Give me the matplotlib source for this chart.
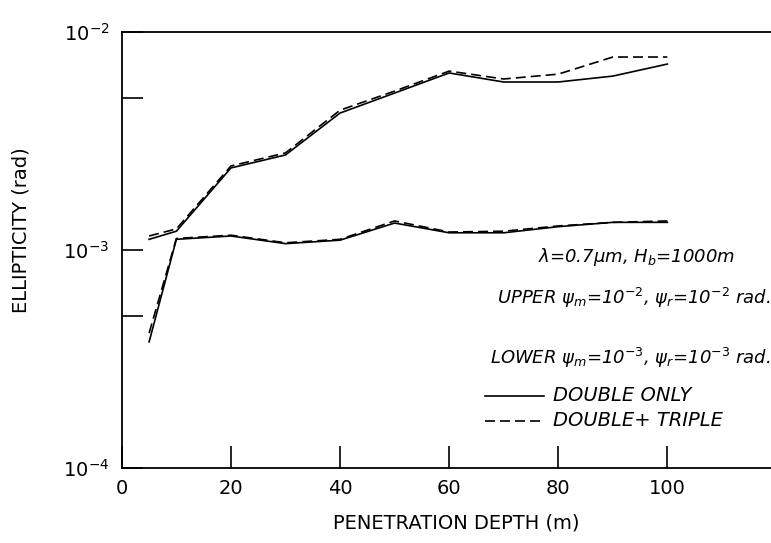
import numpy as np
import matplotlib.pyplot as plt
from matplotlib.ticker import FixedLocator, NullFormatter
from matplotlib.lines import Line2D

# Profundidad de penetracion (m)
depth = [5, 10, 20, 30, 40, 50, 60, 70, 80, 90, 100]

# UPPER: psi_m = psi_r = 1e-2 rad
upper_double = [1.12e-3, 1.22e-3, 2.38e-3, 2.73e-3, 4.25e-3, 5.25e-3,
                6.49e-3, 5.90e-3, 5.90e-3, 6.28e-3, 7.13e-3]
upper_triple = [1.16e-3, 1.25e-3, 2.43e-3, 2.79e-3, 4.38e-3, 5.36e-3,
                6.62e-3, 6.09e-3, 6.41e-3, 7.68e-3, 7.68e-3]

# LOWER: psi_m = psi_r = 1e-3 rad
lower_double = [3.79e-4, 1.12e-3, 1.16e-3, 1.07e-3, 1.11e-3, 1.33e-3,
                1.20e-3, 1.20e-3, 1.28e-3, 1.34e-3, 1.34e-3]
lower_triple = [4.16e-4, 1.13e-3, 1.17e-3, 1.08e-3, 1.12e-3, 1.36e-3,
                1.21e-3, 1.22e-3, 1.29e-3, 1.34e-3, 1.36e-3]

x_ticks = [0, 20, 40, 60, 80, 100]
y_ticks = [1e-4, 1e-3, 1e-2]
y_labels = [r'$10^{-4}$', r'$10^{-3}$', r'$10^{-2}$']

plt.rcParams['font.family'] = ['DejaVu Sans']
plt.rcParams['mathtext.fontset'] = 'dejavusans'

fig = plt.figure(figsize=(7.71, 5.43), dpi=100)
ax = fig.add_axes([0.158, 0.138, 0.842, 0.803])

lw = 1.2
dash = (6, 3)
ax.plot(depth, upper_double, color='black', lw=lw)
ax.plot(depth, upper_triple, color='black', lw=lw, dashes=dash)
ax.plot(depth, lower_double, color='black', lw=lw)
ax.plot(depth, lower_triple, color='black', lw=lw, dashes=dash)

ax.set_yscale('log')
ax.set_xlim(0, 119)
ax.set_ylim(1e-4, 1e-2)

ax.set_xticks(x_ticks)
ax.set_xticklabels([str(v) for v in x_ticks])
ax.set_yticks(y_ticks)
ax.set_yticklabels(y_labels)
ax.yaxis.set_minor_locator(FixedLocator([5e-4, 5e-3]))
ax.yaxis.set_minor_formatter(NullFormatter())
ax.xaxis.set_minor_locator(FixedLocator([]))

ax.tick_params(axis='both', which='both', direction='in', width=1.2,
               labelsize=14)
ax.tick_params(axis='y', which='both', length=15, pad=9)
ax.tick_params(axis='x', which='both', length=16, pad=8)

ax.spines['right'].set_visible(False)
for s in ['left', 'top', 'bottom']:
    ax.spines[s].set_linewidth(1.3)

ax.set_xlabel('PENETRATION DEPTH (m)', fontsize=14)
ax.set_ylabel('ELLIPTICITY (rad)', fontsize=14)
ax.xaxis.set_label_coords(0.515, -0.105)
ax.yaxis.set_label_coords(-0.14, 0.545)

# Anotaciones
ax.text(0.945, 0.483, r'$\lambda$=0.7$\mu$m, H$_b$=1000m', transform=ax.transAxes,
        ha='right', va='center', fontsize=13, style='italic')
ax.text(1.0, 0.39, r'UPPER $\psi_m$=10$^{-2}$, $\psi_r$=10$^{-2}$ rad.',
        transform=ax.transAxes, ha='right', va='center', fontsize=13, style='italic')
ax.text(1.0, 0.253, r'LOWER $\psi_m$=10$^{-3}$, $\psi_r$=10$^{-3}$ rad.',
        transform=ax.transAxes, ha='right', va='center', fontsize=13, style='italic')

handles = [Line2D([], [], color='black', lw=lw),
           Line2D([], [], color='black', lw=lw, dashes=dash)]
leg = ax.legend(handles, ['DOUBLE ONLY', 'DOUBLE+ TRIPLE'], frameon=False,
                loc='upper left', bbox_to_anchor=(0.548, 0.205),
                handlelength=4.3, handletextpad=0.6, labelspacing=0.45,
                borderpad=0)
for t in leg.get_texts():
    t.set_fontsize(14)
    t.set_style('italic')

plt.savefig('out.png', dpi=100)
